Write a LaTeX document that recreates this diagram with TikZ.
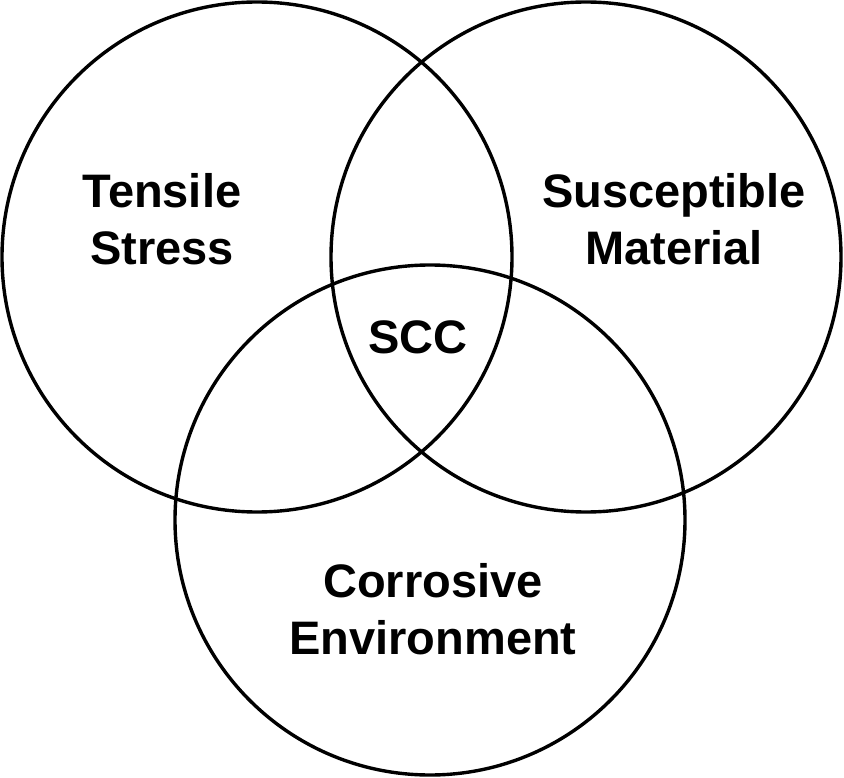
\documentclass[tikz,border=0pt]{standalone}
\usepackage{fontspec}
\setmainfont{Liberation Sans}
\begin{document}
\begin{tikzpicture}[x=1pt,y=1pt,
  ring/.style={draw=black,line width=3.4pt,circle,minimum size=510pt,inner sep=0pt},
  lbl/.style={font=\fontsize{47}{57}\selectfont\bfseries,align=center,inner sep=0pt,anchor=base}]
\useasboundingbox (0,0) rectangle (844,-778);
\node[ring] (ts) at (257,-257) {};
\node[ring] (sm) at (586,-257) {};
\node[ring] (ce) at (430,-520) {};
\node[lbl] (tsl) at (162,-265) {Tensile\\Stress};
\node[lbl] (sml) at (674,-265) {Susceptible\\Material};
\node[lbl] (scc) at (418,-353) {SCC};
\node[lbl] (cel) at (433,-654) {Corrosive\\Environment};
\end{tikzpicture}
\end{document}
